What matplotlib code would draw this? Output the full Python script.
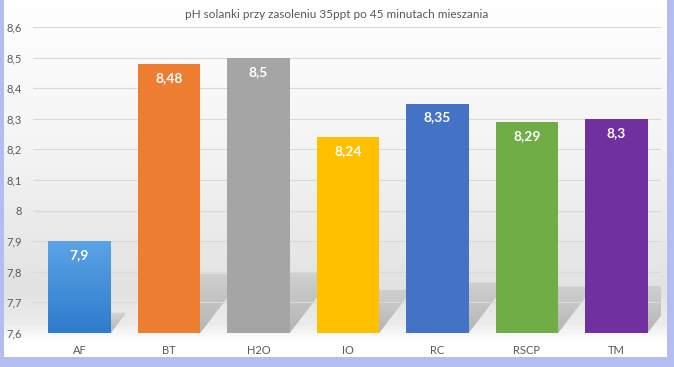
import numpy as np
import matplotlib
matplotlib.use("Agg")
import matplotlib.pyplot as plt
from matplotlib.patches import Polygon
from matplotlib.colors import LinearSegmentedColormap

categories = ["AF", "BT", "H2O", "IO", "RC", "RSCP", "TM"]
values = [7.9, 8.48, 8.5, 8.24, 8.35, 8.29, 8.3]
labels = ["7,9", "8,48", "8,5", "8,24", "8,35", "8,29", "8,3"]
colors = ["#4a90d9", "#ed7d31", "#a5a5a5", "#ffc000", "#4472c4", "#70ad47", "#7030a0"]
yticks = [7.6, 7.7, 7.8, 7.9, 8.0, 8.1, 8.2, 8.3, 8.4, 8.5, 8.6]
ytick_labels = ["7,6", "7,7", "7,8", "7,9", "8", "8,1", "8,2", "8,3", "8,4", "8,5", "8,6"]
title = "pH solanki przy zasoleniu 35ppt po 45 minutach mieszania"

W, H = 674, 367
plt.rcParams['font.family'] = ['Lato', 'DejaVu Sans']
fig = plt.figure(figsize=(W / 100, H / 100), dpi=100)
fig.patch.set_facecolor("#b3bdf0")

# white panel with vertical gradient
bg = fig.add_axes([4 / W, (H - 357) / H, 663 / W, 357 / H], zorder=0)
bg.set_axis_off()
stops = [(0.0, "#ffffff"), (150 / 357, "#f4f4f4"), (290 / 357, "#e2e2e2"),
         (325 / 357, "#ececec"), (342 / 357, "#ffffff"), (1.0, "#ffffff")]
cmap = LinearSegmentedColormap.from_list("bgc", stops)
grad = np.linspace(0, 1, 357).reshape(-1, 1)
bg.imshow(grad, aspect="auto", cmap=cmap, extent=[0, 1, 0, 1], origin="upper")
bg.set_xlim(0, 1)
bg.set_ylim(0, 1)

left_px, right_px, top_px, bot_px = 33, 661, 27, 333
ax = fig.add_axes([left_px / W, (H - bot_px) / H, (right_px - left_px) / W, (bot_px - top_px) / H], zorder=1)
ax.patch.set_alpha(0)

x = np.arange(len(categories))
base = 7.6
bw = 0.70

# perspective shadows with fading gradient
shade = np.zeros((100, 1, 4))
shade[..., 0:3] = 0.68
shade[:, 0, 3] = np.linspace(0.35, 0.9, 100)  # top fainter, bottom denser
for xi, v in zip(x, values):
    h = v - base
    dy = 0.22 * h
    dx = dy * 2.63
    poly = Polygon([(xi - bw / 2, base), (xi + bw / 2, base),
                    (xi + bw / 2 + dx, base + dy), (xi - bw / 2 + dx, base + dy)],
                   closed=True, facecolor="none", edgecolor="none", zorder=0.5)
    ax.add_patch(poly)
    sim = ax.imshow(shade, aspect="auto", origin="upper", interpolation="bilinear",
                    extent=[xi - bw / 2, xi + bw / 2 + dx, base, base + dy], zorder=0.5)
    sim.set_clip_path(poly)

ax.set_yticks(yticks)
ax.set_yticklabels(ytick_labels)
ax.grid(axis="y", color="#d9d9d9", linewidth=0.8, zorder=1)
ax.set_axisbelow(True)
for s in ax.spines.values():
    s.set_visible(False)
ax.tick_params(axis="both", length=0, labelsize=8, colors="#595959")
ax.tick_params(axis="y", pad=8)
ax.tick_params(axis="x", pad=9)
ax.set_xticks(x)
ax.set_xticklabels(categories)

bars = ax.bar(x, [v - base for v in values], bottom=base, width=bw, color=colors, zorder=2)

# gradient on AF bar
b0 = bars[0]
gcm = LinearSegmentedColormap.from_list("afg", ["#5ba3e6", "#2f7bcc"])
im = ax.imshow(np.linspace(0, 1, 100).reshape(-1, 1), cmap=gcm, aspect="auto",
               extent=[b0.get_x(), b0.get_x() + b0.get_width(), base, values[0]],
               origin="upper", zorder=2.1)
im.set_clip_path(b0)
ax.set_xlim(-0.52, 6.5)
ax.set_ylim(7.6, 8.6)

for xi, v, lab in zip(x, values, labels):
    ax.annotate(lab, (xi, v), xytext=(0, -14), textcoords="offset pixels",
                ha="center", va="center", color="white", fontsize=10,
                fontweight="bold", zorder=3)

fig.text(337 / W, 1 - 14 / H, title, ha="center", va="center", fontsize=8.5, color="#595959")

fig.savefig("out.png", dpi=100, facecolor=fig.get_facecolor())
